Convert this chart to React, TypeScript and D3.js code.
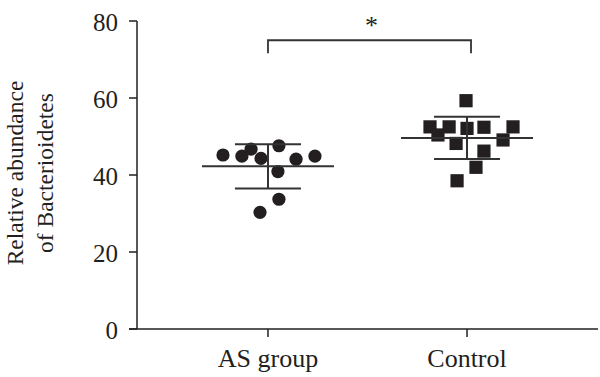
import React from "react";
import * as d3 from "d3";

const categories = ["AS group", "Control"];
const asValues = [45.2, 44.9, 46.7, 44.3, 47.6, 44.1, 44.9, 40.9, 33.7, 30.3];
const asJitter = [-0.226, -0.131, -0.085, -0.035, 0.055, 0.141, 0.236, 0.05, 0.055, -0.04];
const controlValues = [59.3, 52.5, 52.5, 52.1, 52.4, 52.5, 50.4, 48.2, 49.1, 46.2, 42.0, 38.5];
const controlJitter = [-0.005, -0.186, -0.09, 0.0, 0.085, 0.231, -0.146, -0.055, 0.181, 0.085, 0.045, -0.05];
const yTicks = [0, 20, 40, 60, 80];
const yTitle = ["Relative abundance", "of Bacterioidetes"];
const significance = "*";

const W = 600;
const H = 377;
const FONT = "'Liberation Serif', 'Times New Roman', serif";
const INK = "#231f20";

export default function App() {
  const x = d3.scalePoint<string>().domain(categories).range([137, 598]).padding(0.658);
  const y = d3.scaleLinear().domain([0, 80]).range([329, 21]);
  const step = x.step();

  const groups = [
    { cat: categories[0], values: asValues, jitter: asJitter, shape: "circle" },
    { cat: categories[1], values: controlValues, jitter: controlJitter, shape: "square" },
  ];

  const x0 = x(categories[0])!;
  const x1 = x(categories[1])!;

  return (
    <svg
      width={W}
      height={H}
      style={{ position: "absolute", left: 0, top: 0, background: "#fff" }}
      fontFamily={FONT}
    >
      {/* Y axis */}
      <line x1={137} x2={137} y1={y(80)} y2={y(0)} stroke={INK} strokeWidth={1.5} />
      {yTicks.map((t) => (
        <g key={t}>
          <line x1={129} x2={137} y1={y(t)} y2={y(t)} stroke={INK} strokeWidth={1.5} />
          <text x={118} y={y(t) + 10} textAnchor="end" fontSize={25} fill={INK}>
            {t}
          </text>
        </g>
      ))}
      {/* X axis */}
      <line x1={129} x2={598} y1={y(0)} y2={y(0)} stroke={INK} strokeWidth={1.5} />
      {categories.map((c) => (
        <g key={c}>
          <line x1={x(c)} x2={x(c)} y1={y(0)} y2={y(0) + 8} stroke={INK} strokeWidth={1.5} />
          <text x={x(c)} y={367} textAnchor="middle" fontSize={26} fill={INK}>
            {c}
          </text>
        </g>
      ))}
      {/* Y title */}
      <g transform={`translate(0, ${(y(0) + y(80)) / 2 - 2}) rotate(-90)`}>
        <text x={0} y={23} textAnchor="middle" fontSize={23.5} fill={INK}>
          {yTitle[0]}
        </text>
        <text x={0} y={53} textAnchor="middle" fontSize={23.5} fill={INK}>
          {yTitle[1]}
        </text>
      </g>

      {/* points and error bars */}
      {groups.map((g) => {
        const cx = x(g.cat)!;
        const m = d3.mean(g.values)!;
        const sd = d3.deviation(g.values)!;
        return (
          <g key={g.cat}>
            {g.values.map((v, i) => {
              const px = cx + g.jitter[i] * step;
              const py = y(v);
              return g.shape === "circle" ? (
                <circle key={i} cx={px} cy={py} r={6.6} fill={INK} />
              ) : (
                <rect key={i} x={px - 6.6} y={py - 6.6} width={13.2} height={13.2} fill={INK} />
              );
            })}
            <line x1={cx - 66} x2={cx + 66} y1={y(m)} y2={y(m)} stroke="#333" strokeWidth={2} />
            <line x1={cx} x2={cx} y1={y(m + sd)} y2={y(m - sd)} stroke="#333" strokeWidth={2} />
            <line x1={cx - 33} x2={cx + 33} y1={y(m + sd)} y2={y(m + sd)} stroke="#333" strokeWidth={2} />
            <line x1={cx - 33} x2={cx + 33} y1={y(m - sd)} y2={y(m - sd)} stroke="#333" strokeWidth={2} />
          </g>
        );
      })}

      {/* significance bracket */}
      <path
        d={`M${x0},${y(71.6)} V${y(75)} H${x1 + 4} V${y(71.6)}`}
        fill="none"
        stroke="#333"
        strokeWidth={1.8}
      />
      <text x={(x0 + x1 + 4) / 2 + 2} y={34} textAnchor="middle" fontSize={26} fill={INK}>
        {significance}
      </text>
    </svg>
  );
}
